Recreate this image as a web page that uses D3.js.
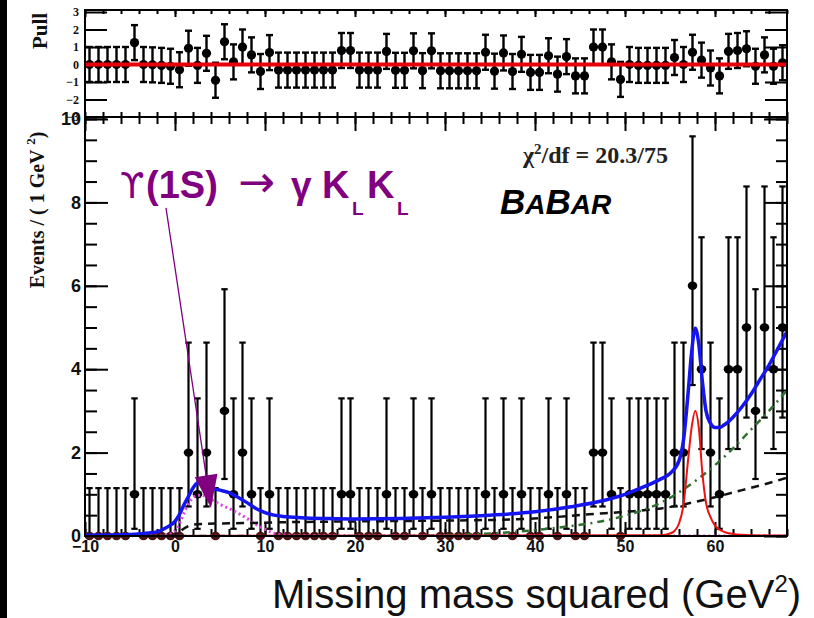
<!DOCTYPE html>
<html>
<head>
<meta charset="utf-8">
<script src="https://cdn.jsdelivr.net/npm/d3@7"></script>
<style>
  body { margin: 0; background: #fff; }
  svg { display: block; }
</style>
</head>
<body>
<svg width="814" height="618"></svg>
<script>
// ---- data ----
// bins of 1 GeV^2 from -10 to 68
const binCenters = d3.range(-9.5, 68, 1);
const counts = [0,0,0,0,0,1,0,0,0,0, 0,2,1,2,0,3,1,2,1,0, 1,0,0,0,0,0,0,0,1,1,
                0,0,0,1,0,0,1,0,1,0, 0,0,0,0,1,0,1,0,1,0, 0,1,0,1,0,0,2,2,1,0,
                1,1,1,1,1,2,2,6,4,2, 1,4,4,5,3,5,4,5];
// Poisson (Garwood) error band edges indexed by count
const poissonLow  = [0, 0.173, 0.708, 1.367, 2.086, 2.840, 3.620];
const poissonHigh = [1.148, 3.300, 4.638, 5.918, 7.163, 8.382, 9.584];

const pulls = [0,0,0,0,0,1.25,0,-0.02,-0.05,-0.1, -0.3,0.93,-0.05,0.64,-0.9,1.3,0.15,1.0,0.55,-0.4,
               0.68,-0.32,-0.32,-0.32,-0.32,-0.32,-0.32,-0.32,0.8,0.8, -0.32,-0.32,-0.32,0.75,-0.33,-0.33,0.78,-0.35,0.78,-0.36,
               -0.36,-0.36,-0.36,-0.36,0.7,-0.38,0.66,-0.4,0.58,-0.45, -0.45,0.5,-0.55,0.45,-0.65,-0.65,1.0,1.0,0.15,-0.85,
               0.0,-0.05,-0.05,-0.05,-0.05,0.4,0.0,0.7,0.25,-0.2, -0.65,0.75,0.8,0.9,-0.1,0.55,-0.1,0.1];

// fit curves
const totalX = [-10,-6,-4,-3,-2,-1,0,0.5,1,1.5,2,2.5,3,3.5,4,5,6,7,8,9,10,11,12,14,17,20,25,30,35,40,44,47,50,52,54,55,56,56.5,57,57.4,57.8,58.2,58.6,59,59.5,60,60.5,61,62,63,64,65,66,67,68];
const totalY = [0.02,0.03,0.05,0.07,0.1,0.2,0.35,0.52,0.75,0.95,1.15,1.27,1.28,1.22,1.15,1.1,1.04,0.93,0.8,0.66,0.56,0.5,0.47,0.44,0.42,0.41,0.42,0.45,0.5,0.58,0.7,0.82,1.0,1.17,1.37,1.5,1.8,2.3,3.4,4.4,4.98,4.6,3.7,3.0,2.7,2.6,2.6,2.66,2.85,3.1,3.4,3.75,4.1,4.5,4.9];

const signalX = [-10,54,55,55.5,56,56.5,57,57.4,57.8,58.2,58.6,59,59.5,60,61,62,64,68];
const signalY = [0,0.02,0.06,0.12,0.3,0.75,1.8,2.6,3.0,2.6,1.5,0.8,0.45,0.25,0.1,0.05,0.02,0.01];

const bkgX = [-10,-1,0,0.5,1,1.5,2,3,5,8,12,20,30,38,42,46,50,54,57,60,63,66,68];
const bkgY = [0,0,0.03,0.1,0.18,0.24,0.27,0.29,0.3,0.31,0.33,0.35,0.37,0.4,0.45,0.52,0.58,0.66,0.78,0.93,1.1,1.27,1.4];

const bkg2X = [-10,25,30,35,40,44,48,51,54,56,58,60,62,64,66,68];
const bkg2Y = [0,0,0.02,0.06,0.14,0.24,0.38,0.55,0.8,1.05,1.35,1.7,2.1,2.55,3.0,3.5];

const kkX = [-10,-2,-1,0,0.5,1,1.5,2,2.5,3,3.5,4,5,6,7,8,9,10,11,12,14,68];
const kkY = [0,0,0.02,0.12,0.3,0.55,0.78,0.92,0.98,0.98,0.94,0.88,0.76,0.66,0.55,0.42,0.28,0.16,0.07,0.03,0.01,0];

const yMajor = [0,2,4,6,8,10];
const xMajor = [-10,0,10,20,30,40,50,60];
const pullTicks = [-3,-2,-1,0,1,2,3];

// annotation arrow (data coords): tail near the label, tip at the peak
const arrowTail = [-1.0, 7.87];
const arrowTip = [4.0, 0.67];

// ---- layout ----
const svg = d3.select('svg');
const frame = { l: 85, r: 787, pullTop: 10, mainTop: 117, bottom: 536 };

const x = d3.scaleLinear().domain([-10, 68]).range([frame.l, frame.r]);
const y = d3.scaleLinear().domain([0, 10]).range([frame.bottom, 119]);
const yPull = d3.scaleLinear().domain([-3, 3]).range([117, 12]);

svg.append('rect').attr('width', 814).attr('height', 618).attr('fill', '#fff');
svg.append('rect').attr('x', 0).attr('y', 0).attr('width', 7).attr('height', 618).attr('fill', '#000');

svg.append('clipPath').attr('id', 'mainClip')
  .append('rect')
  .attr('x', frame.l).attr('y', frame.mainTop)
  .attr('width', frame.r - frame.l).attr('height', frame.bottom - frame.mainTop);

function styleAxis(g) {
  g.select('.domain').remove();
  g.selectAll('.tick line').attr('stroke', '#000').attr('stroke-width', 2);
}

// ---- pull panel ----
const pull = svg.append('g');

pull.append('g')
  .attr('transform', `translate(${frame.l},0)`)
  .call(d3.axisLeft(yPull).tickValues(pullTicks).tickSize(-22).tickPadding(6).tickFormat(d3.format('d')))
  .call(styleAxis)
  .call(g => g.selectAll('text')
    .attr('font-family', '"Liberation Serif", "DejaVu Serif", serif')
    .attr('font-weight', 'bold').attr('font-size', 12).attr('fill', '#111'));
pull.append('g')
  .attr('transform', `translate(${frame.r},0)`)
  .call(d3.axisRight(yPull).tickValues(pullTicks).tickSize(-22).tickFormat(''))
  .call(styleAxis);
pull.append('g')
  .attr('transform', `translate(0,${frame.pullTop})`)
  .call(d3.axisTop(x).tickValues(xMajor).tickSize(-7).tickFormat(''))
  .call(styleAxis);
pull.append('g')
  .attr('transform', `translate(0,${frame.pullTop})`)
  .call(d3.axisTop(x).tickValues(d3.range(-10, 68.1, 2)).tickSize(-4).tickFormat(''))
  .call(styleAxis);
pull.append('g')
  .attr('transform', `translate(0,${frame.mainTop})`)
  .call(d3.axisBottom(x).tickValues(d3.range(-10, 68.1, 2)).tickSize(-5).tickFormat(''))
  .call(styleAxis);

// pull error bars and markers
const pullPts = pull.selectAll('.pull')
  .data(binCenters.map((c, i) => ({ c, p: pulls[i] })))
  .enter().append('g');
pullPts.append('line')
  .attr('x1', d => x(d.c)).attr('x2', d => x(d.c))
  .attr('y1', d => yPull(d.p - 1)).attr('y2', d => yPull(d.p + 1))
  .attr('stroke', '#000').attr('stroke-width', 2.4);
pullPts.selectAll('.cap')
  .data(d => [d.p - 1, d.p + 1].map(v => ({ c: d.c, v })))
  .enter().append('line')
  .attr('x1', d => x(d.c) - 3.5).attr('x2', d => x(d.c) + 3.5)
  .attr('y1', d => yPull(d.v)).attr('y2', d => yPull(d.v))
  .attr('stroke', '#000').attr('stroke-width', 2.4);
pullPts.append('circle')
  .attr('cx', d => x(d.c)).attr('cy', d => yPull(d.p))
  .attr('r', 4.6).attr('fill', '#000');

pull.append('line')
  .attr('x1', frame.l).attr('x2', frame.r)
  .attr('y1', yPull(0)).attr('y2', yPull(0))
  .attr('stroke', '#e8000b').attr('stroke-width', 4);

pull.append('rect')
  .attr('x', frame.l).attr('y', frame.pullTop)
  .attr('width', frame.r - frame.l).attr('height', frame.mainTop - frame.pullTop)
  .attr('fill', 'none').attr('stroke', '#000').attr('stroke-width', 2);

pull.append('text')
  .attr('transform', 'translate(47,31) rotate(-90)')
  .attr('text-anchor', 'middle')
  .attr('font-family', '"Liberation Serif", "DejaVu Serif", serif')
  .attr('font-weight', 'bold').attr('font-size', 21).attr('fill', '#111')
  .text('Pull');

// ---- main panel ----
const main = svg.append('g');

main.append('g')
  .attr('transform', `translate(${frame.l},0)`)
  .call(d3.axisLeft(y).tickValues(d3.range(0, 10.01, 0.5)).tickSize(-12).tickFormat(''))
  .call(styleAxis);
main.append('g')
  .attr('transform', `translate(${frame.l},0)`)
  .call(d3.axisLeft(y).tickValues(yMajor).tickSize(-23).tickPadding(4).tickFormat(d3.format('d')))
  .call(styleAxis)
  .call(g => g.selectAll('text')
    .attr('font-family', '"Liberation Sans", Arial, sans-serif')
    .attr('font-weight', 'bold').attr('font-size', 18).attr('fill', '#111'));
main.append('g')
  .attr('transform', `translate(${frame.r},0)`)
  .call(d3.axisRight(y).tickValues(d3.range(0, 10.01, 0.5)).tickSize(-11).tickFormat(''))
  .call(styleAxis);
main.append('g')
  .attr('transform', `translate(${frame.r},0)`)
  .call(d3.axisRight(y).tickValues(yMajor).tickSize(-23).tickFormat(''))
  .call(styleAxis);
main.append('g')
  .attr('transform', `translate(0,${frame.bottom})`)
  .call(d3.axisBottom(x).tickValues(d3.range(-10, 68.1, 2)).tickSize(-7).tickFormat(''))
  .call(styleAxis);
main.append('g')
  .attr('transform', `translate(0,${frame.bottom})`)
  .call(d3.axisBottom(x).tickValues(xMajor).tickSize(-14).tickPadding(5).tickFormat(d3.format('d')))
  .call(styleAxis)
  .call(g => g.selectAll('text')
    .attr('font-family', '"Liberation Sans", Arial, sans-serif')
    .attr('font-weight', 'bold').attr('font-size', 16).attr('fill', '#111'));
main.append('g')
  .attr('transform', `translate(0,${frame.mainTop})`)
  .call(d3.axisTop(x).tickValues(d3.range(-10, 68.1, 2)).tickSize(-7).tickFormat(''))
  .call(styleAxis);
main.append('g')
  .attr('transform', `translate(0,${frame.mainTop})`)
  .call(d3.axisTop(x).tickValues(xMajor).tickSize(-14).tickFormat(''))
  .call(styleAxis);

// data points with Poisson error bars
const pts = main.selectAll('.pt')
  .data(binCenters.map((c, i) => ({ c, n: counts[i] })))
  .enter().append('g');
pts.append('line')
  .attr('x1', d => x(d.c)).attr('x2', d => x(d.c))
  .attr('y1', d => y(poissonLow[d.n])).attr('y2', d => y(poissonHigh[d.n]))
  .attr('stroke', '#000').attr('stroke-width', 2.2);
pts.selectAll('.cap')
  .data(d => [poissonLow[d.n], poissonHigh[d.n]].map(v => ({ c: d.c, v })))
  .enter().append('line')
  .attr('x1', d => x(d.c) - 3.2).attr('x2', d => x(d.c) + 3.2)
  .attr('y1', d => y(d.v)).attr('y2', d => y(d.v))
  .attr('stroke', '#000').attr('stroke-width', 2.2);
pts.append('ellipse')
  .attr('cx', d => x(d.c)).attr('cy', d => y(d.n))
  .attr('rx', 4.8).attr('ry', 4.2)
  .attr('fill', d => d.n === 0 ? '#4a1414' : '#000');

// fit components
const line = d3.line().x(d => x(d[0])).y(d => y(d[1])).curve(d3.curveMonotoneX);
const curves = main.append('g').attr('clip-path', 'url(#mainClip)');
function drawCurve(xs, ys, color, width, dash) {
  curves.append('path')
    .datum(xs.map((v, i) => [v, ys[i]]))
    .attr('d', line)
    .attr('fill', 'none')
    .attr('stroke', color)
    .attr('stroke-width', width)
    .attr('stroke-dasharray', dash)
    .attr('stroke-linejoin', 'round');
}
drawCurve(kkX, kkY, '#dd44dd', 3, '2,3');
drawCurve(bkgX, bkgY, '#111', 2.5, '8,6');
drawCurve(bkg2X, bkg2Y, '#2f6f2f', 2.5, '7,5,2,5');
drawCurve(signalX, signalY, '#ee1111', 2);
drawCurve(totalX, totalY, '#1515f0', 3.5);

main.append('rect')
  .attr('x', frame.l).attr('y', frame.mainTop)
  .attr('width', frame.r - frame.l).attr('height', frame.bottom - frame.mainTop)
  .attr('fill', 'none').attr('stroke', '#000').attr('stroke-width', 2);

// y title
const yTitle = main.append('text')
  .attr('transform', 'translate(44,210) rotate(-90)')
  .attr('text-anchor', 'middle')
  .attr('font-family', '"Liberation Serif", "DejaVu Serif", serif')
  .attr('font-weight', 'bold').attr('font-size', 20).attr('fill', '#111');
yTitle.append('tspan').text('Events / ( 1 GeV ');
yTitle.append('tspan').attr('dy', -9).attr('font-size', 13).text(' 2');
yTitle.append('tspan').attr('dy', 9).text(')');

// chi2 label
const chi = main.append('text')
  .attr('x', 523).attr('y', 163)
  .attr('font-family', '"Liberation Serif", "DejaVu Serif", serif')
  .attr('font-weight', 'bold').attr('font-size', 24).attr('fill', '#222');
chi.append('tspan').text('χ');
chi.append('tspan').attr('dy', -9).attr('font-size', 15).text('2');
chi.append('tspan').attr('dy', 9).text('/df = 20.3/75');

// BaBar logo
const babar = main.append('text')
  .attr('x', 500).attr('y', 214)
  .attr('font-family', '"Liberation Sans", Arial, sans-serif')
  .attr('font-weight', 'bold').attr('font-style', 'italic').attr('fill', '#000');
[['B', 35], ['A', 28], ['B', 35], ['AR', 28]].forEach(([t, s]) =>
  babar.append('tspan').attr('font-size', s).text(t));

// decay label
const purple = '#800080';
const lbl = main.append('g').attr('fill', purple)
  .attr('font-family', '"Liberation Sans", "DejaVu Sans", sans-serif');
lbl.append('text').attr('x', 120).attr('y', 198).attr('font-size', 35)
  .attr('font-family', '"DejaVu Sans", sans-serif').text('ϒ');
lbl.append('text').attr('x', 146).attr('y', 198).attr('font-size', 38).attr('font-weight', 'bold').text('(1S)');
lbl.append('text').attr('x', 238).attr('y', 197).attr('font-size', 44)
  .attr('font-family', '"DejaVu Sans", sans-serif').text('→');
lbl.append('text').attr('x', 291).attr('y', 198).attr('font-size', 37).attr('font-weight', 'bold').text('γ');
lbl.append('text').attr('x', 322).attr('y', 198).attr('font-size', 38).attr('font-weight', 'bold').text('K');
lbl.append('text').attr('x', 352).attr('y', 215).attr('font-size', 19).attr('font-weight', 'bold').text('L');
lbl.append('text').attr('x', 367).attr('y', 198).attr('font-size', 38).attr('font-weight', 'bold').text('K');
lbl.append('text').attr('x', 397).attr('y', 215).attr('font-size', 19).attr('font-weight', 'bold').text('L');

// arrow to the peak
const tx = x(arrowTail[0]), ty = y(arrowTail[1]);
const hx = x(arrowTip[0]), hy = y(arrowTip[1]);
const len = Math.hypot(hx - tx, hy - ty);
const ux = (hx - tx) / len, uy = (hy - ty) / len;
const headLen = 33, headHalf = 11.5;
const bx = hx - ux * headLen, by = hy - uy * headLen;
main.append('line')
  .attr('x1', tx).attr('y1', ty).attr('x2', bx).attr('y2', by)
  .attr('stroke', purple).attr('stroke-width', 1.3);
main.append('polygon')
  .attr('points', [[hx, hy], [bx - uy * headHalf, by + ux * headHalf], [bx + uy * headHalf, by - ux * headHalf]].map(p => p.join(',')).join(' '))
  .attr('fill', purple);

// x title
const xTitle = svg.append('text')
  .attr('x', 272).attr('y', 608)
  .attr('font-family', '"Liberation Sans", Arial, sans-serif')
  .attr('font-size', 40).attr('fill', '#111');
xTitle.append('tspan').text('Missing mass squared (GeV');
xTitle.append('tspan').attr('dy', -16).attr('font-size', 24).text('2');
xTitle.append('tspan').attr('dy', 16).text(')');
</script>
</body>
</html>
